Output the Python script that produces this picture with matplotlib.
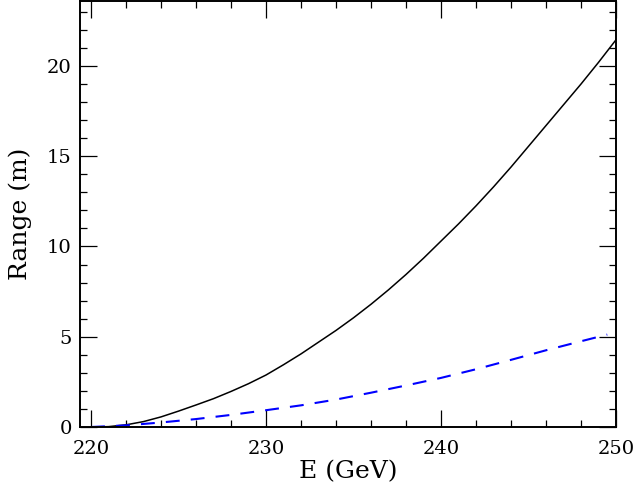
import matplotlib
matplotlib.use("Agg")
import matplotlib.pyplot as plt
from matplotlib.ticker import MultipleLocator

# Data
E_solid = [220, 221, 222, 223, 224, 225, 226, 227, 228, 229, 230, 231, 232, 233, 234,
           235, 236, 237, 238, 239, 240, 241, 242, 243, 244, 245, 246, 247, 248, 249, 250]
R_solid = [0.0, 0.02, 0.12, 0.3, 0.56, 0.88, 1.22, 1.57, 1.97, 2.4, 2.88, 3.45, 4.05, 4.7, 5.35,
           6.05, 6.8, 7.6, 8.45, 9.35, 10.3, 11.25, 12.25, 13.3, 14.4, 15.55, 16.7, 17.85, 19.0, 20.2, 21.45]

E_dash = [220, 222, 224, 226, 228, 230, 232, 234, 236, 238, 240, 242, 244, 246, 248, 249.5]
R_dash = [0.0, 0.09, 0.25, 0.44, 0.67, 0.93, 1.2, 1.52, 1.9, 2.3, 2.72, 3.2, 3.72, 4.25, 4.75, 5.12]

x_ticks = [220, 230, 240, 250]
y_ticks = [0, 5, 10, 15, 20]

plt.rcParams['font.family'] = ['DejaVu Serif']
plt.rcParams['lines.scale_dashes'] = False

fig = plt.figure(figsize=(6.36, 4.96), dpi=100)
ax = fig.add_axes([80/636, 1 - 427/496, (616-80)/636, (427-1)/496])

ax.plot(E_solid, R_solid, color='black', lw=1.1)
ax.plot(E_dash, R_dash, color='#0000ff', lw=1.5, dashes=(10, 8))

ax.set_xlim(219.37, 250)
ax.set_ylim(0, 23.6)
ax.set_xticks(x_ticks)
ax.set_yticks(y_ticks)
ax.xaxis.set_minor_locator(MultipleLocator(2))
ax.yaxis.set_minor_locator(MultipleLocator(1))

ax.tick_params(which='both', direction='in', top=True, right=True, width=0.9, labelsize=14)
ax.tick_params(which='major', length=12.5)
ax.tick_params(which='minor', length=5)
ax.tick_params(axis='x', pad=9)
ax.tick_params(axis='y', pad=6)
for s in ax.spines.values():
    s.set_linewidth(1.4)

ax.set_xlabel('E (GeV)', fontsize=18, labelpad=2)
ax.set_ylabel('Range (m)', fontsize=18, labelpad=11)

fig.savefig('out.png', dpi=100)
